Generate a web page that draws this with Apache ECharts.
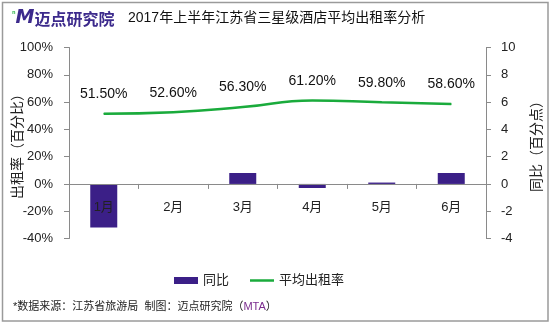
<!DOCTYPE html>
<html>
<head>
<meta charset="utf-8">
<script src="https://cdn.jsdelivr.net/npm/echarts@6/dist/echarts.min.js"></script>
<style>
html,body{margin:0;padding:0;background:#fff;}
#c{width:550px;height:323px;}
</style>
</head>
<body>
<div id="c"></div>
<script>
var categories = ['1月', '2月', '3月', '4月', '5月', '6月'];
var yoyValues = [-3.2, 0, 0.8, -0.3, 0.1, 0.8];
var occupancyValues = [51.5, 52.6, 56.3, 61.2, 59.8, 58.6];
var leftTicks = { min: -40, max: 100, interval: 20 };
var rightTicks = { min: -4, max: 10, interval: 2 };

var FONT = '"Liberation Sans", "Noto Sans CJK SC", sans-serif';
var chart = echarts.init(document.getElementById('c'), null, { renderer: 'canvas' });

chart.setOption({
  animation: false,
  backgroundColor: '#fff',
  textStyle: { fontFamily: FONT },
  graphic: [
    { type: 'rect', shape: { x: 2.5, y: 2.5, width: 545.5, height: 318.5 },
      style: { fill: 'none', stroke: '#9a9a9a', lineWidth: 1.5 }, silent: true },
    { type: 'text', left: 12, top: 9,
      style: { text: '{s|ⁿ}{m|M}{t|迈点研究院}',
        rich: {
          s: { fill: '#2db34a', fontSize: 9, fontWeight: 'bold', verticalAlign: 'top' },
          m: { fill: '#3c2a8c', fontSize: 19, fontWeight: 'bold', fontStyle: 'italic', fontFamily: '"DejaVu Sans", sans-serif' },
          t: { fill: '#3c2a8c', fontSize: 16, fontWeight: 'bold', fontFamily: '"Noto Sans CJK SC", sans-serif' }
        } } },
    { type: 'text', left: 128, top: 11,
      style: { text: '2017年上半年江苏省三星级酒店平均出租率分析', fill: '#111', fontSize: 14, fontFamily: FONT } },
    { type: 'text', left: 13, top: 301,
      style: { text: '*数据来源：江苏省旅游局  制图：迈点研究院（{p|MTA}）', fill: '#222', fontSize: 11, fontFamily: FONT,
        rich: { p: { fill: '#7b2d8e', fontSize: 11, fontFamily: FONT } } } }
  ],
  legend: {
    left: 174, top: 274,
    padding: 0,
    itemWidth: 24, itemHeight: 7, itemGap: 21,
    textStyle: { fontSize: 13, color: '#222', fontFamily: FONT },
    data: [
      { name: '同比', icon: 'rect' },
      { name: '平均出租率', icon: 'path://M0,0H24V2.5H0Z' }
    ]
  },
  grid: { left: 69, right: 64, top: 47.5, bottom: 84.5, containLabel: false, outerBoundsMode: 'none' },
  xAxis: {
    type: 'category', data: categories, z: 10,
    axisLine: { onZero: true, lineStyle: { color: '#8a8a8a', width: 1 } },
    axisTick: { show: true, length: 5, lineStyle: { color: '#8a8a8a' } },
    axisLabel: { margin: -38, fontSize: 13, color: '#222', fontFamily: FONT }
  },
  yAxis: [
    {
      type: 'value', min: leftTicks.min, max: leftTicks.max, interval: leftTicks.interval,
      name: '出租率（百分比）', nameLocation: 'middle', nameRotate: 90, nameGap: 44, nameMoveOverlap: false,
      nameTextStyle: { fontSize: 14, color: '#222', fontFamily: FONT },
      axisLine: { show: true, lineStyle: { color: '#8a8a8a' } },
      axisTick: { show: true, length: 5, lineStyle: { color: '#8a8a8a' } },
      splitLine: { show: false },
      axisLabel: { formatter: '{value}%', margin: 16, fontSize: 13, color: '#222', fontFamily: FONT }
    },
    {
      type: 'value', min: rightTicks.min, max: rightTicks.max, interval: rightTicks.interval,
      name: '同比（百分点）', nameLocation: 'middle', nameRotate: 90, nameGap: 44, nameMoveOverlap: false,
      nameTextStyle: { fontSize: 14, color: '#222', fontFamily: FONT },
      axisLine: { show: true, lineStyle: { color: '#8a8a8a' } },
      axisTick: { show: true, length: 5, lineStyle: { color: '#8a8a8a' } },
      splitLine: { show: false },
      axisLabel: { margin: 15, fontSize: 13, color: '#222', fontFamily: FONT }
    }
  ],
  series: [
    {
      name: '同比', type: 'bar', yAxisIndex: 1, data: yoyValues, barWidth: 27,
      itemStyle: { color: '#3b1f87' }, z: 2
    },
    {
      name: '平均出租率', type: 'line', yAxisIndex: 0, data: occupancyValues,
      smooth: true, symbol: 'circle', symbolSize: 1, showSymbol: true,
      lineStyle: { color: '#1aab3c', width: 2.5 }, itemStyle: { color: '#1aab3c' },
      label: { show: true, position: 'top', distance: 12, fontSize: 14, color: '#111', fontFamily: FONT,
        formatter: function (p) { return p.value.toFixed(2) + '%'; } },
      z: 3
    }
  ]
});
</script>
</body>
</html>
